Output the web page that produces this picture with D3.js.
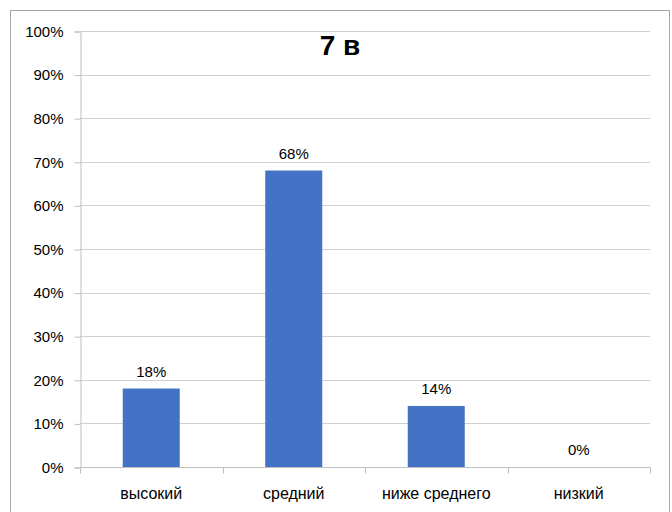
<!DOCTYPE html>
<html lang="ru">
<head>
  <meta charset="UTF-8">
  <script src="https://d3js.org/d3.v7.min.js"></script>
  <title>7 в</title>
  <style>
    body { margin: 0; background: #fff; font-family: "Liberation Sans", Arial, sans-serif; }
  </style>
</head>
<body>
<script>
  // chart data
  const categories = ["высокий", "средний", "ниже среднего", "низкий"];
  const values = [0.18, 0.68, 0.14, 0];
  const yTicks = [0, 0.1, 0.2, 0.3, 0.4, 0.5, 0.6, 0.7, 0.8, 0.9, 1];
  const title = "7 в";

  const width = 672, height = 512;
  const margin = { top: 31, right: 22, bottom: 45, left: 80 };

  const svg = d3.select("body").append("svg")
    .attr("width", width)
    .attr("height", height);

  // outer frame
  svg.append("rect")
    .attr("x", 10.5).attr("y", 10.5)
    .attr("width", 659).attr("height", 520)
    .attr("fill", "#fff")
    .attr("stroke", "#a6a6a6");

  const x = d3.scaleBand()
    .domain(categories)
    .range([margin.left, width - margin.right])
    .paddingInner(0.6)
    .paddingOuter(0.3);

  const y = d3.scaleLinear()
    .domain([0, 1])
    .range([height - margin.bottom, margin.top]);

  const fmt = d3.format(".0%");

  // gridlines
  svg.append("g")
    .selectAll("line")
    .data(yTicks.slice(1))
    .enter().append("line")
    .attr("x1", margin.left).attr("x2", width - margin.right)
    .attr("y1", d => Math.round(y(d)) + 0.5).attr("y2", d => Math.round(y(d)) + 0.5)
    .attr("stroke", "#d0d0d0");

  // y axis
  const yAxis = svg.append("g")
    .attr("transform", `translate(${margin.left + 0.5},0.5)`)
    .call(d3.axisLeft(y).tickValues(yTicks).tickFormat(fmt).tickSize(6).tickPadding(11));
  yAxis.select(".domain").attr("stroke", "#bfbfbf");
  yAxis.selectAll(".tick line").attr("stroke", "#bfbfbf");
  yAxis.selectAll(".tick text")
    .attr("fill", "#000")
    .style("font-size", "15px")
    .style("font-family", "Liberation Sans, Arial, sans-serif");

  // x axis: ticks at band boundaries
  const xAxisG = svg.append("g")
    .attr("transform", `translate(0,${Math.round(y(0)) + 0.5})`);
  xAxisG.append("line")
    .attr("x1", margin.left).attr("x2", width - margin.right)
    .attr("stroke", "#bfbfbf");
  const step = x.step();
  const bounds = d3.range(categories.length + 1).map(i => margin.left + i * step);
  xAxisG.selectAll(".bt")
    .data(bounds)
    .enter().append("line")
    .attr("x1", d => Math.round(d) + 0.5).attr("x2", d => Math.round(d) + 0.5)
    .attr("y1", 0).attr("y2", 6)
    .attr("stroke", "#bfbfbf");
  xAxisG.selectAll("text")
    .data(categories)
    .enter().append("text")
    .attr("x", d => x(d) + x.bandwidth() / 2)
    .attr("y", 31)
    .attr("text-anchor", "middle")
    .style("font-size", "16px")
    .text(d => d);

  // bars
  svg.append("g")
    .selectAll("rect")
    .data(values)
    .enter().append("rect")
    .attr("x", (d, i) => x(categories[i]))
    .attr("y", d => y(d))
    .attr("width", x.bandwidth())
    .attr("height", d => y(0) - y(d))
    .attr("fill", "#4472c4");

  // value labels
  svg.append("g")
    .selectAll("text")
    .data(values)
    .enter().append("text")
    .attr("x", (d, i) => x(categories[i]) + x.bandwidth() / 2)
    .attr("y", d => y(d) - 12)
    .attr("text-anchor", "middle")
    .style("font-size", "15px")
    .text(d => fmt(d));

  // title
  svg.append("text")
    .attr("x", 340)
    .attr("y", 55)
    .attr("text-anchor", "middle")
    .style("font-size", "28px")
    .style("font-weight", "bold")
    .text(title);
</script>
</body>
</html>
